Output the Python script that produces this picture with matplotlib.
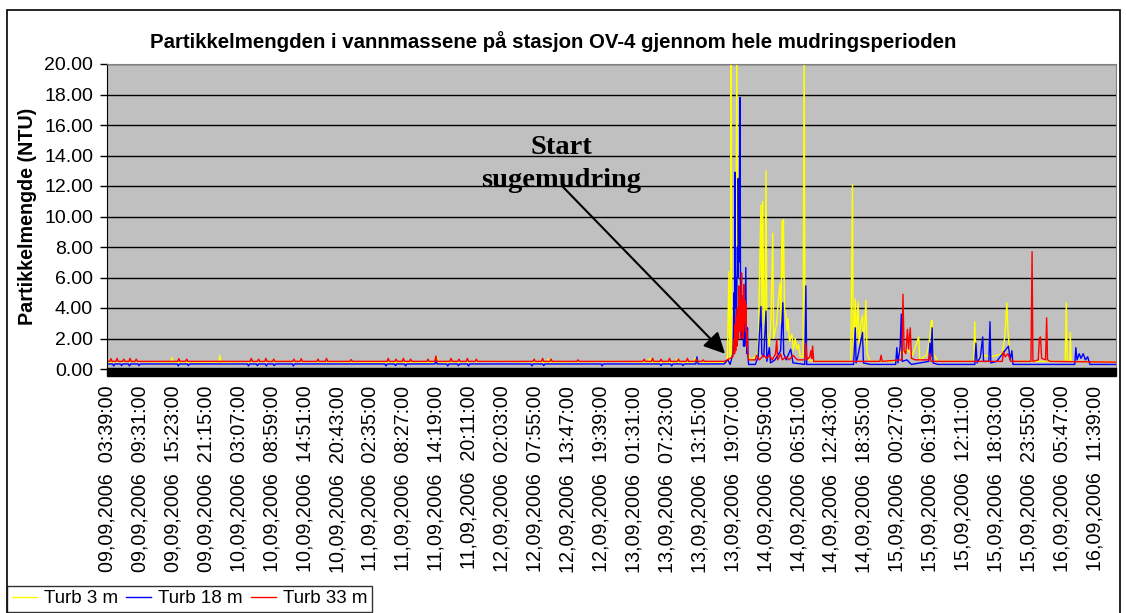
import matplotlib
matplotlib.use("Agg")
import matplotlib.pyplot as plt
from matplotlib.patches import Rectangle
from matplotlib.lines import Line2D
import matplotlib.transforms as mtransforms

# x values: hours after 09.09.2006 03:39
tick_labels = [
    "09,09,2006  03:39:00", "09,09,2006  09:31:00", "09,09,2006  15:23:00", "09,09,2006  21:15:00",
    "10,09,2006  03:07:00", "10,09,2006  08:59:00", "10,09,2006  14:51:00", "10,09,2006  20:43:00",
    "11,09,2006  02:35:00", "11,09,2006  08:27:00", "11,09,2006  14:19:00", "11,09,2006  20:11:00",
    "12,09,2006  02:03:00", "12,09,2006  07:55:00", "12,09,2006  13:47:00", "12,09,2006  19:39:00",
    "13,09,2006  01:31:00", "13,09,2006  07:23:00", "13,09,2006  13:15:00", "13,09,2006  19:07:00",
    "14,09,2006  00:59:00", "14,09,2006  06:51:00", "14,09,2006  12:43:00", "14,09,2006  18:35:00",
    "15,09,2006  00:27:00", "15,09,2006  06:19:00", "15,09,2006  12:11:00", "15,09,2006  18:03:00",
    "15,09,2006  23:55:00", "16,09,2006  05:47:00", "16,09,2006  11:39:00",
]
tick_step_h = 352 / 60.0
x_end_h = 179.75

yellow_t = [0, 4, 11.4, 11.6, 11.8, 19.9, 20.1, 20.3, 30, 45, 58.6, 58.8, 59.0, 70, 78.4, 78.6, 78.8,
            90, 96.5, 96.7, 96.9, 101.3, 101.5, 101.7, 104.5, 104.7, 104.9,
            110.5, 110.8, 110.95, 111.1, 111.2, 111.3, 111.6, 112.0, 112.2, 112.35, 112.6, 113.0, 113.4,
            113.8, 114.2, 114.6, 115.5, 116.0, 116.5, 116.65, 116.8, 117.0, 117.2, 117.4, 117.55, 118.0,
            118.3, 118.6, 118.75, 119.3, 119.6, 119.9, 120.05, 120.25, 120.4, 120.5, 120.7, 121.0, 121.15,
            121.3, 121.6, 122.0, 122.3, 122.6, 122.9, 123.2, 123.5, 124.0, 124.2, 124.35, 125.0, 126.0,
            132.5, 132.8, 132.95, 133.3, 133.5, 133.8, 134.0, 134.3, 134.6, 134.8, 135.2, 135.4, 136.0,
            140.5, 141.0, 141.6, 142.5, 143.5, 144.6, 144.8, 146.0, 146.5, 146.8, 147.0, 147.2, 148.0,
            154.4, 154.6, 154.75, 156.0, 157.5, 159.5, 159.9, 160.1, 160.3, 160.5, 160.8, 161.5,
            170.7, 170.9, 171.05, 171.5, 171.6, 171.75, 179.75]
yellow_v = [0.45, 0.5, 0.45, 0.75, 0.45, 0.45, 0.9, 0.45, 0.5, 0.45, 0.45, 0.75, 0.45, 0.5, 0.45, 0.65, 0.45,
            0.5, 0.45, 0.7, 0.45, 0.45, 0.65, 0.45, 0.45, 0.7, 0.45,
            0.45, 6.4, 0.6, 0.6, 22, 1.0, 2.0, 3.0, 22, 4.0, 5.0, 3.0, 2.5,
            3.0, 1.0, 0.6, 0.8, 1.2, 10.75, 3.0, 11.0, 4.0, 2.0, 13.0, 2.5, 1.5,
            3.5, 8.9, 2.0, 3.0, 4.5, 5.6, 3.0, 9.7, 6.0, 9.8, 4.0, 3.4, 2.5,
            3.3, 1.8, 2.3, 1.2, 2.0, 1.3, 1.6, 0.8, 0.8, 22, 0.7, 0.6, 0.5,
            0.5, 12.1, 0.8, 4.6, 2.0, 4.4, 1.5, 3.0, 3.5, 1.5, 4.5, 1.0, 0.5,
            0.5, 1.2, 1.0, 1.3, 0.9, 2.1, 0.6, 0.9, 1.8, 3.0, 3.2, 1.0, 0.5,
            0.5, 3.1, 0.6, 0.9, 0.8, 1.0, 2.0, 3.0, 4.35, 2.5, 1.2, 0.5,
            0.5, 4.35, 0.6, 0.5, 2.4, 0.5, 0.45]

blue_t = [0, 1.0, 1.2, 1.4, 2.4, 2.6, 2.8, 3.8, 4.0, 4.2, 5.5, 5.7, 5.9, 7.5, 12.5, 12.7, 12.9, 14.3, 14.5,
          14.7, 25.0, 25.2, 25.4, 26.6, 26.8, 27.0, 28.2, 28.4, 28.6, 29.6, 29.8, 30.0, 33.0, 33.2, 33.4,
          49.5, 49.7, 49.9, 51.2, 51.4, 51.6, 53.0, 53.2, 53.4, 58.4, 58.6, 58.8, 60.5, 60.7, 60.9,
          62.4, 62.6, 62.8, 64.2, 64.4, 64.6, 75.5, 75.7, 75.9, 77.6, 77.8, 78.0, 88.0, 88.2, 88.4,
          98.5, 98.7, 98.9, 100.4, 100.6, 100.8, 102.4, 102.6, 102.8, 104.9, 105.1, 105.3, 109.8,
          110.0, 110.6, 111.0, 111.5, 111.6, 111.7, 111.8, 111.87, 111.95, 112.05, 112.15, 112.3, 112.4,
          112.45, 112.55, 112.65, 112.77, 112.85, 112.95, 113.05, 113.15, 113.3, 113.4, 113.5, 113.6,
          113.8, 113.9, 114.0, 114.1, 114.2, 114.3,
          115.5, 116.0, 116.5, 116.65, 117.0, 117.4,
          117.55, 118.0, 118.2, 119.0, 120.0, 120.4, 120.55, 121.0, 121.8, 122.2, 124.3, 124.5, 124.65,
          126.0, 133.0, 133.3, 133.45, 133.8, 134.6, 134.75, 136.0, 140.5, 140.7, 140.9, 141.3, 141.5,
          141.65, 142.5, 143.3, 146.4, 146.6, 146.8, 147.0, 147.15, 148.0, 154.6, 154.8, 155.0, 155.6,
          156.0, 156.15, 157.1, 157.3, 157.45, 158.5, 160.6, 160.9, 161.2, 161.4, 172.4, 172.6, 172.8,
          173.2, 173.5, 173.9, 174.3, 174.7, 175.1, 179.75]
blue_v = [0.33, 0.33, 0.2, 0.33, 0.33, 0.22, 0.33, 0.33, 0.2, 0.33, 0.33, 0.22, 0.33, 0.33, 0.33, 0.2, 0.33,
          0.33, 0.22, 0.33, 0.33, 0.2, 0.33, 0.33, 0.22, 0.33, 0.33, 0.2, 0.33, 0.33, 0.22, 0.33, 0.33, 0.2,
          0.33, 0.33, 0.2, 0.33, 0.33, 0.22, 0.33, 0.33, 0.2, 0.33, 0.33, 0.55, 0.33, 0.33, 0.2, 0.33,
          0.33, 0.22, 0.33, 0.33, 0.2, 0.33, 0.33, 0.2, 0.33, 0.33, 0.22, 0.33, 0.33, 0.2, 0.33,
          0.33, 0.22, 0.33, 0.33, 0.2, 0.33, 0.33, 0.22, 0.33, 0.33, 0.8, 0.33, 0.33,
          0.35, 0.6, 0.3, 1.0, 2.5, 5.0, 2.0, 12.9, 4.0, 6.0, 3.0, 8.0, 6.0,
          12.5, 7.0, 10.0, 17.8, 6.0, 3.0, 4.5, 2.0, 4.0, 1.5, 3.5, 1.5,
          6.65, 2.0, 1.0, 2.7, 0.8, 0.3,
          0.3, 0.8, 4.1, 1.0, 0.8, 3.8,
          0.5, 1.4, 0.4, 0.6, 1.2, 4.35, 1.0, 0.6, 1.3, 0.4, 0.3, 5.45, 0.3,
          0.3, 0.3, 2.7, 0.4, 0.9, 2.4, 0.4, 0.3, 0.3, 1.4, 0.4, 1.5, 3.6,
          0.5, 0.6, 0.3, 0.5, 1.7, 0.8, 2.7, 0.4, 0.3, 0.3, 1.7, 0.4, 0.8,
          2.1, 0.5, 0.5, 3.1, 0.4, 0.5, 1.5, 0.6, 1.2, 0.3, 0.3, 1.4, 0.6,
          1.0, 0.7, 1.0, 0.6, 0.8, 0.3, 0.3]

red_t = [0, 0.5, 0.7, 0.9, 1.6, 1.8, 2.0, 2.8, 3.0, 3.2, 3.9, 4.1, 4.3, 5.0, 5.2, 5.4, 12.6, 12.8, 13.0,
         14.0, 14.2, 14.4, 25.5, 25.7, 25.9, 26.8, 27.0, 27.2, 28.1, 28.3, 28.5, 29.5, 29.7, 29.9,
         33.1, 33.3, 33.5, 34.4, 34.6, 34.8, 37.4, 37.6, 37.8, 38.9, 39.1, 39.3, 43.3, 43.5, 43.7,
         49.9, 50.1, 50.3, 51.3, 51.5, 51.7, 52.6, 52.8, 53.0, 53.9, 54.1, 54.3, 57.0, 57.2, 57.4,
         58.4, 58.6, 58.8, 61.1, 61.3, 61.5, 62.5, 62.7, 62.9, 64.0, 64.2, 64.4, 65.6, 65.8, 66.0,
         75.9, 76.1, 76.3, 77.4, 77.6, 77.8, 78.9, 79.1, 79.3, 83.7, 83.9, 84.1, 95.5, 95.7, 95.9,
         97.0, 97.2, 97.4, 98.5, 98.7, 98.9, 100.0, 100.2, 100.4, 101.6, 101.8, 102.0, 103.2, 103.4,
         103.6, 104.8, 105.0, 105.2, 106.0, 106.2, 106.4,
         110.0, 111.5, 111.7, 111.8, 111.9, 112.0, 112.1, 112.2, 112.3, 112.4, 112.55, 112.65, 112.75,
         112.85, 112.95, 113.05, 113.15, 113.25, 113.35, 113.45, 113.55, 113.65, 113.75, 113.85, 113.95,
         114.05, 114.15, 114.3,
         115.5, 115.7, 116.2, 117.0, 117.5, 118.0, 118.5, 119.1, 119.3, 119.5, 120.0, 120.3, 121.0,
         121.5, 122.2, 123.0, 124.3, 124.5, 124.7, 125.2, 125.4, 125.55, 125.7, 125.9, 137.7, 137.9,
         138.1, 141.6, 141.8, 142.0, 142.3, 142.6, 142.8, 143.1, 143.3, 144.0, 146.4, 146.6, 146.8,
         159.5, 159.7, 160.0, 160.5, 161.0, 164.6, 164.8, 164.95, 165.9, 166.1, 166.3, 166.5, 167.2,
         167.4, 167.55, 168.0, 179.75]
red_v = [0.5, 0.5, 0.68, 0.5, 0.5, 0.7, 0.5, 0.5, 0.65, 0.5, 0.5, 0.7, 0.5, 0.5, 0.65, 0.5, 0.5, 0.68, 0.5,
         0.5, 0.65, 0.5, 0.5, 0.7, 0.5, 0.5, 0.65, 0.5, 0.5, 0.7, 0.5, 0.5, 0.65, 0.5,
         0.5, 0.65, 0.5, 0.5, 0.68, 0.5, 0.5, 0.65, 0.5, 0.5, 0.7, 0.5, 0.5, 0.62, 0.5,
         0.5, 0.7, 0.5, 0.5, 0.65, 0.5, 0.5, 0.7, 0.5, 0.5, 0.65, 0.5, 0.5, 0.65, 0.5,
         0.5, 0.85, 0.5, 0.5, 0.7, 0.5, 0.5, 0.65, 0.5, 0.5, 0.7, 0.5, 0.5, 0.65, 0.5,
         0.5, 0.65, 0.5, 0.5, 0.7, 0.5, 0.5, 0.65, 0.5, 0.5, 0.6, 0.5, 0.5, 0.65, 0.5,
         0.5, 0.7, 0.5, 0.5, 0.65, 0.5, 0.5, 0.7, 0.5, 0.5, 0.65, 0.5, 0.5, 0.7,
         0.5, 0.5, 0.65, 0.5, 0.5, 0.6, 0.5,
         0.5, 0.8, 2.0, 1.0, 2.9, 1.2, 3.5, 1.5, 4.0, 2.0, 5.45, 2.5, 4.5,
         2.0, 5.0, 6.3, 2.5, 4.8, 2.0, 5.55, 3.0, 4.5, 2.5, 4.2, 1.5,
         2.5, 1.1, 0.6,
         0.6, 0.9, 0.6, 0.9, 0.7, 0.9, 0.6, 1.0, 1.9, 0.6, 1.0, 0.6, 0.8,
         0.6, 0.9, 0.6, 0.6, 1.7, 0.6, 0.8, 1.2, 0.7, 1.5, 0.5, 0.5, 0.9,
         0.5, 0.6, 4.9, 1.2, 1.0, 2.6, 1.3, 2.7, 0.7, 0.6, 0.6, 1.0, 0.5,
         0.5, 1.15, 0.8, 1.0, 0.5, 0.5, 7.7, 0.5, 0.6, 2.0, 2.1, 0.7, 0.6,
         3.35, 0.6, 0.5, 0.45]

plt.rcParams['font.family'] = ['Liberation Sans', 'DejaVu Sans']

fig = plt.figure(figsize=(11.27, 6.13), dpi=100)
W, H = 1127, 613
ax = fig.add_axes([107 / W, (H - 369) / H, (1116 - 107) / W, (369 - 64) / H])
ax.set_facecolor('#C0C0C0')

# outer chart frame
fig.patches.append(Rectangle((7 / W, -0.05), (1120 - 7) / W, (H - 10) / H + 0.05,
                             transform=fig.transFigure, fill=False, edgecolor='black', linewidth=1.2))

ax.plot(yellow_t, yellow_v, color='#FFFF00', lw=1.0)
ax.plot(blue_t, blue_v, color='#0000FF', lw=1.0)
ax.plot(red_t, red_v, color='#FF0000', lw=1.0)

ax.set_xlim(0, x_end_h)
ax.set_ylim(0, 20)
ax.set_yticks(range(0, 21, 2))
ax.set_yticklabels([f"{v:.2f}" for v in range(0, 21, 2)], fontsize=14)
ax.yaxis.grid(True, color='black', lw=1.0)
ax.set_axisbelow(True)
ax.tick_params(axis='y', length=5, width=1, pad=5, color='black')

ax.set_xticks([k * tick_step_h for k in range(len(tick_labels))])
ax.set_xticklabels(tick_labels, rotation=90, fontsize=14.2, va='top', ha='center')
ax.tick_params(axis='x', length=0, pad=12)

for s in ['top', 'right']:
    ax.spines[s].set_color('#808080')
ax.spines['left'].set_color('black')
ax.spines['bottom'].set_visible(False)

# thick black bar along the category axis
trans = mtransforms.blended_transform_factory(ax.transAxes, ax.transData)
ax.add_patch(Rectangle((0, -0.45), 1, 0.5, transform=trans, color='black', clip_on=False, zorder=5))

ax.set_ylabel('Partikkelmengde (NTU)', fontsize=14.2, fontweight='bold', labelpad=5)
fig.text(553 / W, 1 - 42 / H, 'Partikkelmengden i vannmassene på stasjon OV-4 gjennom hele mudringsperioden',
         ha='center', va='center', fontsize=14.7, fontweight='bold')

ax.text(80.9, 13.45, 'Start\nsugemudring', ha='center', va='center', fontsize=20.5,
        fontweight='bold', family='Liberation Serif', linespacing=1.4, zorder=6)
ax.annotate('', xy=(110.1, 1.0), xytext=(81.2, 11.95),
            arrowprops=dict(arrowstyle='-|>', color='black', lw=1.5, mutation_scale=32,
                            shrinkA=0, shrinkB=0), zorder=6)

handles = [Line2D([], [], color=c, lw=1) for c in ['#FFFF00', '#0000FF', '#FF0000']]
leg = fig.legend(handles, ['Turb 3 m', 'Turb 18 m', 'Turb 33 m'], loc='lower left',
                 bbox_to_anchor=(7 / W, 1 / H), ncol=3, fontsize=13.5, frameon=True, fancybox=False,
                 handlelength=1.35, handletextpad=0.35, columnspacing=0.45, borderpad=0.25,
                 borderaxespad=0)
leg.get_frame().set_edgecolor('black')
leg.get_frame().set_linewidth(1.0)

fig.savefig('out.png', dpi=100)
